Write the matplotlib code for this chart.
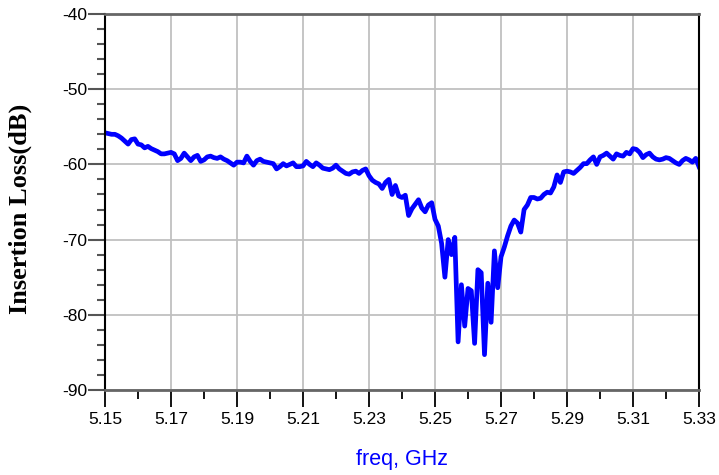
import numpy as np
import matplotlib.pyplot as plt
from matplotlib.ticker import MultipleLocator, FormatStrFormatter

plt.rcParams['font.family'] = ['Liberation Sans', 'DejaVu Sans']
plt.rcParams['axes.unicode_minus'] = False

# insertion loss in dB, sweep 5.150 - 5.330 GHz in 1 MHz steps
loss = [
    -55.8, -55.9, -56.0, -56.0, -56.2, -56.5, -56.9, -57.3, -56.7, -56.6,
    -57.3, -57.4, -57.8, -57.6, -57.9, -58.1, -58.3, -58.6, -58.6, -58.5,
    -58.4, -58.6, -59.5, -59.2, -58.5, -59.0, -59.5, -59.0, -58.8, -59.6,
    -59.4, -59.0, -58.9, -59.1, -59.2,
    -59.0, -59.3, -59.5, -59.8, -60.1, -59.7, -59.7, -59.8, -58.9, -59.6,
    -60.1, -59.5, -59.3, -59.6, -59.7, -59.8, -59.9, -60.6, -60.3, -59.9,
    -60.2, -60.0, -59.8, -60.3, -60.3, -60.2, -59.6, -60.0, -60.3, -59.8,
    -60.1, -60.5, -60.6, -60.7, -60.5, -60.1, -60.6, -60.9, -61.2, -61.3,
    -61.0, -60.9, -61.2, -60.8, -60.6, -61.5, -62.1, -62.4, -62.6, -63.2,
    -62.4, -62.0,
    -64.0, -62.8, -64.2, -64.4, -64.1, -66.8, -65.9, -65.3, -64.7, -65.8,
    -66.3, -65.4, -65.1, -67.3,
    -68.2, -70.5, -75.0, -70.0, -72.0, -69.7, -83.6, -76.0, -81.5, -76.5,
    -76.8, -83.8, -74.0, -74.4, -85.3, -75.8, -81.0, -71.5, -76.4, -72.3,
    -71.0, -69.5, -68.2, -67.4, -67.8, -69.0, -66.0, -65.4, -64.4, -64.4,
    -64.6, -64.5, -64.0, -63.7, -63.8, -63.0, -61.4, -62.4, -61.0, -60.9,
    -61.0, -61.2, -60.8, -60.4, -59.9, -59.9, -59.4, -59.0, -60.0,
    -59.0, -58.8, -58.5, -58.9, -59.3, -58.6, -58.8, -58.9, -58.4, -58.6,
    -57.9, -58.0, -58.4, -59.1, -58.7, -58.5, -59.0, -59.3, -59.4, -59.3,
    -59.1, -59.2, -59.5, -59.8, -60.0, -59.5, -59.2, -59.4, -59.7, -59.2,
    -60.3,
]
freq = np.linspace(5.15, 5.33, len(loss))

xticks = [5.15, 5.17, 5.19, 5.21, 5.23, 5.25, 5.27, 5.29, 5.31, 5.33]
yticks = [-90, -80, -70, -60, -50, -40]

fig = plt.figure(figsize=(7.19, 4.75), dpi=100)
ax = fig.add_axes([105/719, 1-390/475, 594/719, 376/475])

ax.plot(freq, loss, color='#0000ff', lw=3.4, solid_joinstyle='round')

ax.set_xlim(5.15, 5.33)
ax.set_ylim(-90, -40)
ax.set_xticks(xticks)
ax.set_yticks(yticks)
ax.xaxis.set_major_formatter(FormatStrFormatter('%.2f'))
ax.xaxis.set_minor_locator(MultipleLocator(0.01))
ax.yaxis.set_minor_locator(MultipleLocator(2))

ax.grid(which='major', color='#c0c0c0', lw=1.3)
ax.set_axisbelow(True)

ax.tick_params(axis='y', which='major', direction='out', length=12, width=1.5,
               color='#555555', pad=1, labelsize=12.5)
ax.tick_params(axis='y', which='minor', direction='out', length=6, width=1.5,
               color='#555555')
ax.tick_params(axis='x', which='major', direction='out', length=12, width=1.3,
               color='black', pad=4, labelsize=12.5)
ax.tick_params(axis='x', which='minor', direction='out', length=6.5, width=1.3,
               color='black')

for s in ['top', 'bottom']:
    ax.spines[s].set_color('#666666')
    ax.spines[s].set_linewidth(2)
for s in ['left', 'right']:
    ax.spines[s].set_color('black')
    ax.spines[s].set_linewidth(1.5)

fig.text(20/719, 1-209/475, 'Insertion Loss(dB)', rotation=90, ha='center',
         va='center', fontsize=19, fontweight='bold', family='Liberation Serif')
fig.text(402/719, 1-460/475, 'freq, GHz', color='#0000ff', fontsize=15.5,
         ha='center', va='center')

fig.savefig('out.png', dpi=100)
